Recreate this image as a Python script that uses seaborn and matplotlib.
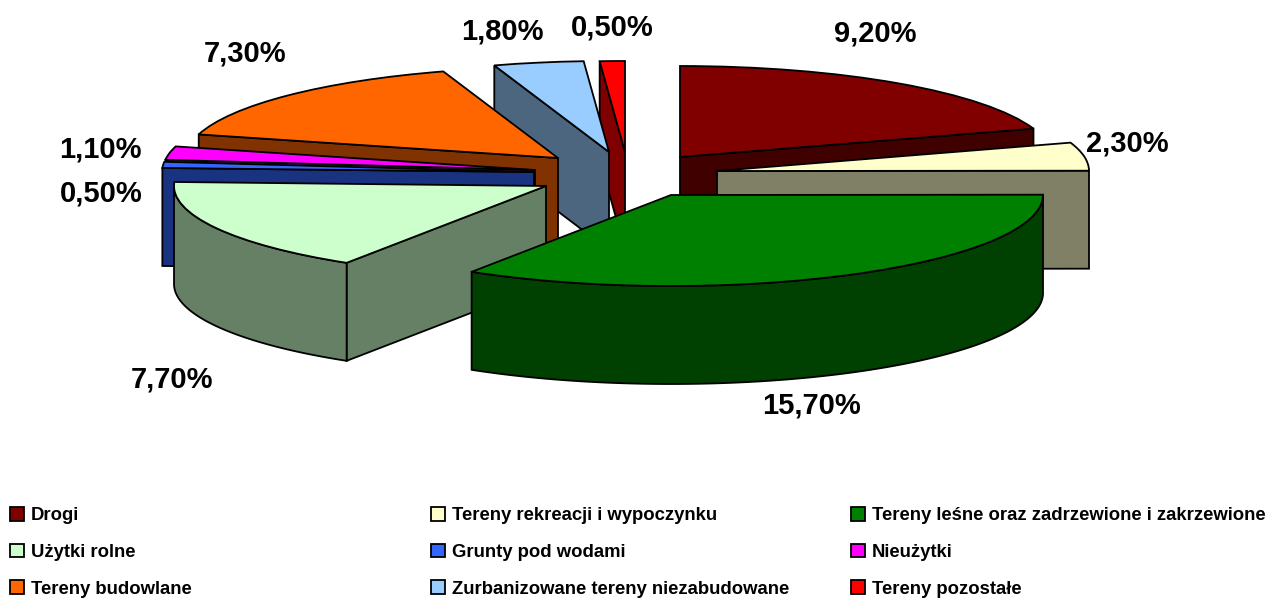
import numpy as np
import matplotlib
matplotlib.use("Agg")
import matplotlib.pyplot as plt
from matplotlib.colors import to_rgb
from matplotlib.patches import Polygon, Patch
import seaborn as sns

# ---- data ----
categories = ["Drogi", "Tereny rekreacji i wypoczynku", "Tereny leśne oraz zadrzewione i zakrzewione",
              "Użytki rolne", "Grunty pod wodami", "Nieużytki",
              "Tereny budowlane", "Zurbanizowane tereny niezabudowane", "Tereny pozostałe"]
values = [9.2, 2.3, 15.7, 7.7, 0.5, 1.1, 7.3, 1.8, 0.5]
colors = ["#800000", "#FFFFCC", "#008000", "#CCFFCC", "#3366FF", "#FF00FF", "#FF6600", "#99CCFF", "#FF0000"]

# ---- layout (pixels of the 1266x598 picture) ----
W, H = 1266, 598
RX, RY, DEPTH = 372, 91, 98
apex_px = [(680, 157), (717, 171), (671, 195), (546, 186), (534, 172),
           (535, 170), (558, 158), (609, 152), (625, 152)]
label_px = [(875, 33), (1127, 143), (812, 406), (172, 380), (101, 193),
            (100, 150), (245, 53), (502, 31), (612, 28)]
draw_order = [8, 7, 0, 1, 6, 5, 4, 3, 2]
LW = 1.3

sns.set_theme(style="white")
plt.rcParams["font.family"] = ["Liberation Sans", "DejaVu Sans"]

fig = plt.figure(figsize=(W / 100, H / 100), dpi=100, facecolor="white")
ax = fig.add_axes([0, 0, 1, 1])
k = RX / RY
wedges, _ = ax.pie(values, startangle=90, counterclock=False, radius=RX, colors=colors,
                   wedgeprops=dict(edgecolor="black", linewidth=LW))
ax.set_aspect("auto")
ax.set_xlim(0, W)
ax.set_ylim(0, H * k)
ax.axis("off")


def to_data(px, py):
    return px, (H - py) * k


depth = DEPTH * k
for z, i in enumerate(draw_order):
    w = wedges[i]
    cx, cy = to_data(*apex_px[i])
    w.set_center((cx, cy))
    base = 10 + z * 10
    w.set_zorder(base + 5)
    side = tuple(c * 0.5 for c in to_rgb(colors[i]))
    a1, a2 = np.radians(w.theta1), np.radians(w.theta2)
    mid = (a1 + a2) / 2
    # flat cut faces that look towards the viewer
    for a in (a1, a2):
        if abs(np.cos(a)) < 1e-6:
            continue
        if np.sin(mid) - np.tan(a) * np.cos(mid) > 0:
            ex, ey = cx + RX * np.cos(a), cy + RX * np.sin(a)
            ax.add_patch(Polygon([(cx, cy), (ex, ey), (ex, ey - depth), (cx, cy - depth)],
                                 closed=True, facecolor=side, edgecolor="black", linewidth=LW,
                                 zorder=base + 1))
    # curved rim on the near half of the ellipse
    t = np.linspace(a1, a2, 240)
    t = t[np.sin(t) <= 0]
    if t.size > 1:
        xs, ys = cx + RX * np.cos(t), cy + RX * np.sin(t)
        pts = np.r_[np.c_[xs, ys], np.c_[xs[::-1], ys[::-1] - depth]]
        ax.add_patch(Polygon(pts, closed=True, facecolor=side, edgecolor="black", linewidth=LW,
                             zorder=base + 2))

for v, (lx, ly) in zip(values, label_px):
    ax.text(*to_data(lx, ly), f"{v:.2f}%".replace(".", ","), ha="center", va="center",
            fontsize=21, fontweight="bold", color="black", zorder=200)

# legend: three columns, filled row by row
col_x = [10, 431, 851]
legend_top = 507
for c, x0 in enumerate(col_x):
    idx = range(c, len(categories), 3)
    hs = [Patch(facecolor=colors[i], edgecolor="black", linewidth=LW, label=categories[i]) for i in idx]
    lg = fig.legend(handles=hs, loc="upper left", bbox_to_anchor=(x0 / W, 1 - legend_top / H),
                    frameon=False, borderpad=0, borderaxespad=0,
                    handlelength=0.76, handleheight=0.76, handletextpad=0.36,
                    labelspacing=1.05, prop=dict(weight="bold", size=13.3))
    for t in lg.get_texts():
        t.set_color("black")

fig.savefig("out.png", dpi=100, facecolor="white")
